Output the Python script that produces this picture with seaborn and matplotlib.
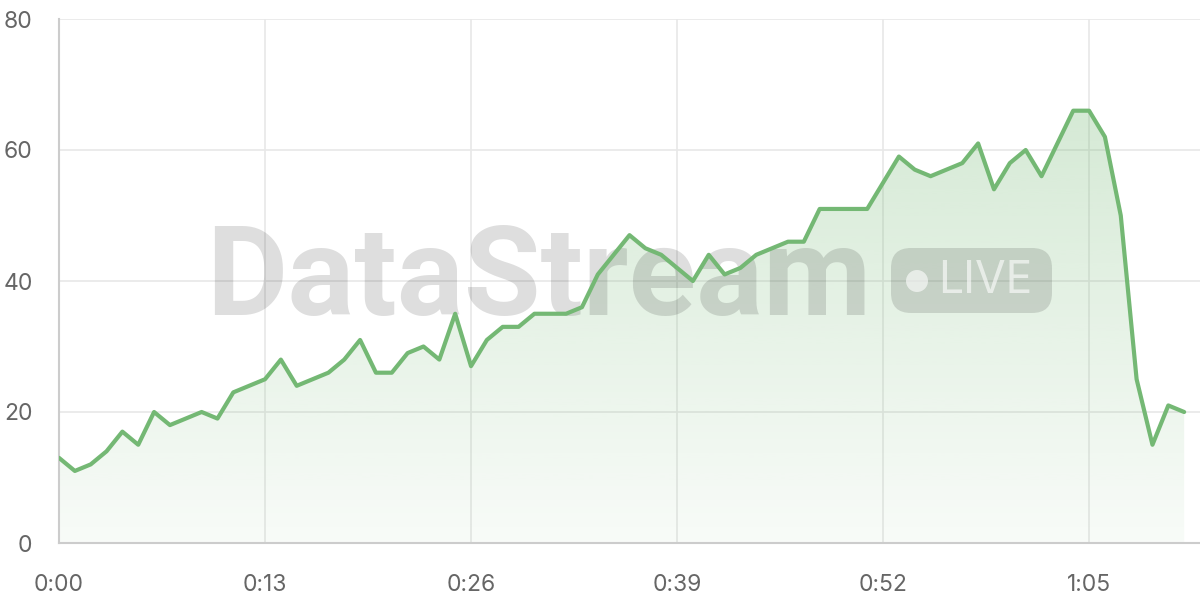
import numpy as np
import pandas as pd
import matplotlib
matplotlib.use("Agg")
import matplotlib.pyplot as plt
from matplotlib.patches import FancyBboxPatch, Circle
import seaborn as sns

# viewers per second of the stream
seconds = list(range(72))
viewers = [13, 11, 12, 14, 17, 15, 20, 18, 19, 20, 19, 23, 24, 25, 28, 24, 25, 26,
           28, 31, 26, 26, 29, 30, 28, 35, 27, 31, 33, 33, 35, 35, 35, 36, 41, 44,
           47, 45, 44, 42, 40, 44, 41, 42, 44, 45, 46, 46, 51, 51, 51, 51, 55, 59,
           57, 56, 57, 58, 61, 54, 58, 60, 56, 61, 66, 66, 62, 50, 25, 15, 21, 20]
tick_pos = [0, 13, 26, 39, 52, 65]
tick_labels = ["0:00", "0:13", "0:26", "0:39", "0:52", "1:05"]
y_ticks = [0, 20, 40, 60, 80]

df = pd.DataFrame({"t": seconds, "viewers": viewers})

green = "#74b874"
sns.set_style("white")
plt.rcParams["font.family"] = ["Inter", "DejaVu Sans"]

fig = plt.figure(figsize=(12, 6), dpi=100)
ax = fig.add_axes([59 / 1200, 57 / 600, 1141 / 1200, 524 / 600])

# gradient fill under the line
poly = ax.fill_between(df["t"], df["viewers"], 0, color="none", lw=0)
grad = np.linspace(0.05, 0.30, 256).reshape(-1, 1)
rgba = np.zeros((256, 1, 4))
rgba[..., :3] = matplotlib.colors.to_rgb(green)
rgba[..., 3] = grad[:, 0:1]
img = ax.imshow(rgba, extent=[0, 72, 0, max(viewers)], origin="lower",
                aspect="auto", zorder=1)
img.set_clip_path(poly.get_paths()[0], transform=ax.transData)

sns.lineplot(data=df, x="t", y="viewers", ax=ax, color=green, lw=3, zorder=4)

ax.set_xlim(0, 72)
ax.set_ylim(0, 80)
ax.set_xticks(tick_pos)
ax.set_xticklabels(tick_labels)
ax.set_yticks(y_ticks)
ax.set_xlabel("")
ax.set_ylabel("")
ax.grid(True, color="#e8e8e8", lw=1.2, zorder=0)
ax.set_axisbelow(True)
for s in ["top", "right"]:
    ax.spines[s].set_visible(False)
for s in ["left", "bottom"]:
    ax.spines[s].set_color("#cccccc")
    ax.spines[s].set_linewidth(1.5)
ax.tick_params(axis="both", length=11, width=1.2, color="#e8e8e8",
               labelsize=16.5, labelcolor="#666666", pad=8)
ax.tick_params(axis="x", pad=11)

# watermark
ax.text(0.129, 0.435, "DataStream", transform=ax.transAxes, fontsize=90,
        fontweight="bold", family=["Roboto", "DejaVu Sans"],
        color="black", alpha=0.13, ha="left", va="baseline", zorder=3)
badge = FancyBboxPatch((8.91, 2.87), 1.61, 0.65,
                       boxstyle="round,pad=0,rounding_size=0.2",
                       transform=fig.dpi_scale_trans, facecolor="black",
                       alpha=0.13, lw=0, zorder=3)
ax.add_artist(badge)
badge.set_clip_on(False)
dot = Circle((9.17, 3.19), 0.11, transform=fig.dpi_scale_trans,
             facecolor="white", alpha=0.6, lw=0, zorder=3)
ax.add_artist(dot)
dot.set_clip_on(False)
fig.text(9.85 / 12, 3.19 / 6, "LIVE", fontsize=32, color="white", alpha=0.6,
         ha="center", va="center", zorder=5)

fig.savefig("out.png", dpi=100)
